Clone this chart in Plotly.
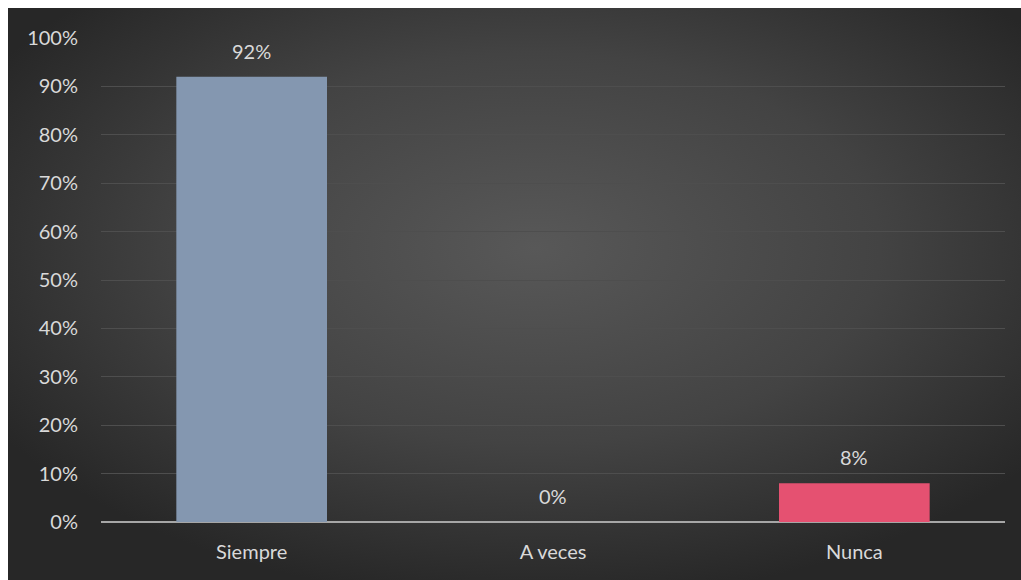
import base64
import plotly.graph_objects as go

# Survey responses and their shares
categories = ["Siempre", "A veces", "Nunca"]
shares = [0.92, 0.0, 0.08]
bar_colors = ["#8497B0", "#8497B0", "#E55171"]
y_ticks = [i / 10 for i in range(11)]
y_tick_labels = [f"{i * 10}%" for i in range(11)]

W, H = 1021, 580
L, R, T, B = 101, 16, 38, 58
pw, ph = W - L - R, H - T - B

FONT = "Lato, 'Open Sans', sans-serif"
TEXT_COLOR = "#D9D9D9"

# Dark radial-gradient chart backdrop as an SVG image
svg = (
    '<svg xmlns="http://www.w3.org/2000/svg" width="1013" height="572" '
    'preserveAspectRatio="none" viewBox="0 0 1013 572">'
    '<defs><radialGradient id="g" cx="0.52" cy="0.42" r="0.62">'
    '<stop offset="0" stop-color="#585858"/>'
    '<stop offset="0.55" stop-color="#434343"/>'
    '<stop offset="1" stop-color="#272727"/>'
    '</radialGradient></defs>'
    '<rect width="1013" height="572" fill="url(#g)"/></svg>'
)
bg_uri = "data:image/svg+xml;base64," + base64.b64encode(svg.encode()).decode()

def px_to_paper_x(px):
    return (px - L) / pw

def px_to_paper_y(py):
    return (H - B - py) / ph

fig = go.Figure(
    go.Bar(
        x=categories,
        y=shares,
        marker=dict(color=bar_colors, line=dict(width=0)),
        width=0.5,
        hoverinfo="skip",
    )
)

# Value labels above each bar
for cat, val in zip(categories, shares):
    fig.add_annotation(
        x=cat, y=val, xref="x", yref="y",
        text=f"{round(val * 100)}%",
        showarrow=False,
        yanchor="middle", yshift=26,
        font=dict(family=FONT, size=20, color=TEXT_COLOR),
    )

fig.add_layout_image(
    source=bg_uri,
    xref="paper", yref="paper",
    x=px_to_paper_x(8), y=px_to_paper_y(8),
    sizex=px_to_paper_x(W) - px_to_paper_x(8),
    sizey=px_to_paper_y(8) - px_to_paper_y(H),
    xanchor="left", yanchor="top",
    sizing="stretch", layer="below",
)

fig.update_layout(
    width=W, height=H,
    margin=dict(l=L, r=R, t=T, b=B, pad=0),
    paper_bgcolor="white",
    plot_bgcolor="rgba(0,0,0,0)",
    showlegend=False,
    bargap=0.5,
    font=dict(family=FONT, size=20, color=TEXT_COLOR),
    xaxis=dict(
        showgrid=False,
        showline=False,
        ticks="",
        tickfont=dict(family=FONT, size=20, color=TEXT_COLOR),
        ticklabelstandoff=16,
    ),
    yaxis=dict(
        range=[0, 1.0],
        tickvals=y_ticks,
        ticktext=y_tick_labels,
        showgrid=True,
        gridcolor="#4E4E4E",
        gridwidth=1,
        zeroline=True,
        zerolinecolor="#A6A6A6",
        zerolinewidth=2,
        showline=False,
        ticks="",
        ticklabelstandoff=22,
        tickfont=dict(family=FONT, size=20, color=TEXT_COLOR),
    ),
)

fig.write_html("out.html")
